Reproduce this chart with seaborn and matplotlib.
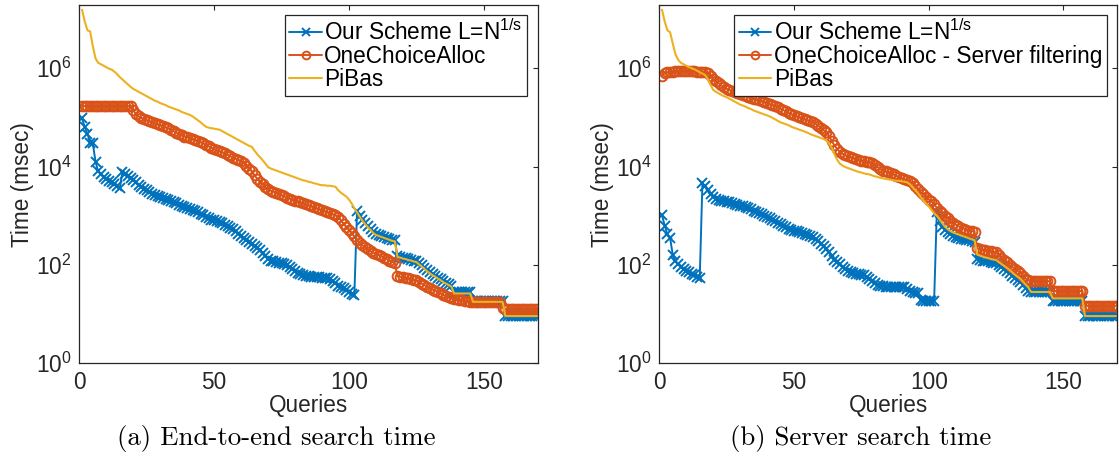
import numpy as np
import pandas as pd
import matplotlib
matplotlib.use("Agg")
import matplotlib.pyplot as plt
import seaborn as sns

# Query index (1..170)
queries = list(range(1, 171))

# log10 of search time in msec, one value per query
# ---- (a) end-to-end search time ----
ours_e2e = [
    4.98, 4.80, 4.67, 4.48, 4.47, 4.10, 3.90, 3.84, 3.78, 3.74,
    3.71, 3.68, 3.64, 3.61, 3.56, 3.89, 3.84, 3.80, 3.77, 3.73,
    3.68, 3.62, 3.58, 3.55, 3.52, 3.48, 3.45, 3.42, 3.40, 3.38,
    3.36, 3.34, 3.32, 3.30, 3.28, 3.25, 3.22, 3.19, 3.17, 3.15,
    3.13, 3.11, 3.09, 3.07, 3.04, 3.01, 2.98, 2.95, 2.92, 2.91,
    2.90, 2.88, 2.85, 2.82, 2.79, 2.76, 2.73, 2.68, 2.63, 2.58,
    2.54, 2.50, 2.46, 2.42, 2.38, 2.34, 2.30, 2.25, 2.18, 2.12,
    2.09, 2.07, 2.05, 2.04, 2.03, 2.02, 1.99, 1.95, 1.91, 1.87,
    1.84, 1.81, 1.79, 1.78, 1.77, 1.76, 1.76, 1.75, 1.75, 1.74,
    1.74, 1.73, 1.72, 1.68, 1.63, 1.58, 1.56, 1.53, 1.49, 1.44,
    1.40, 1.38, 3.10, 3.00, 2.92, 2.85, 2.79, 2.73, 2.67, 2.63,
    2.61, 2.59, 2.57, 2.55, 2.53, 2.51, 2.50, 2.18, 2.17, 2.15,
    2.14, 2.12, 2.11, 2.09, 2.08, 2.03, 1.99, 1.94, 1.89, 1.85,
    1.81, 1.78, 1.74, 1.71, 1.67, 1.64, 1.61, 1.58, 1.45, 1.45,
    1.45, 1.45, 1.45, 1.45, 1.45, 1.27, 1.27, 1.27, 1.27, 1.27,
    1.27, 1.27, 1.27, 1.27, 1.27, 1.27, 1.27, 0.97, 0.97, 0.97,
    0.97, 0.97, 0.97, 0.97, 0.97, 0.97, 0.97, 0.97, 0.97, 0.97,
]
onechoice_e2e = [
    5.23, 5.23, 5.23, 5.23, 5.23, 5.23, 5.23, 5.23, 5.23, 5.23,
    5.23, 5.23, 5.23, 5.23, 5.23, 5.23, 5.23, 5.23, 5.23, 5.15,
    5.06, 5.02, 4.99, 4.96, 4.94, 4.92, 4.90, 4.88, 4.86, 4.84,
    4.82, 4.80, 4.78, 4.75, 4.72, 4.69, 4.66, 4.64, 4.61, 4.60,
    4.58, 4.56, 4.54, 4.52, 4.50, 4.47, 4.44, 4.41, 4.38, 4.35,
    4.33, 4.31, 4.29, 4.27, 4.24, 4.21, 4.18, 4.16, 4.14, 4.11,
    4.07, 4.02, 3.96, 3.90, 3.82, 3.75, 3.69, 3.64, 3.59, 3.54,
    3.51, 3.49, 3.47, 3.45, 3.42, 3.40, 3.37, 3.35, 3.33, 3.31,
    3.29, 3.27, 3.25, 3.23, 3.21, 3.19, 3.17, 3.15, 3.13, 3.11,
    3.09, 3.07, 3.05, 3.03, 3.01, 2.97, 2.91, 2.84, 2.77, 2.72,
    2.65, 2.58, 2.51, 2.45, 2.40, 2.36, 2.32, 2.28, 2.25, 2.23,
    2.21, 2.18, 2.15, 2.12, 2.09, 2.06, 2.04, 1.77, 1.76, 1.75,
    1.74, 1.73, 1.72, 1.70, 1.69, 1.66, 1.62, 1.59, 1.56, 1.53,
    1.50, 1.48, 1.45, 1.42, 1.39, 1.36, 1.34, 1.32, 1.31, 1.30,
    1.29, 1.28, 1.27, 1.26, 1.25, 1.24, 1.24, 1.24, 1.24, 1.24,
    1.24, 1.24, 1.24, 1.24, 1.24, 1.24, 1.12, 1.10, 1.10, 1.10,
    1.10, 1.10, 1.10, 1.10, 1.10, 1.10, 1.10, 1.10, 1.10, 1.10,
]
pibas_e2e = [
    7.19, 6.95, 6.77, 6.75, 6.45, 6.20, 6.11, 6.08, 6.05, 6.02,
    5.99, 5.97, 5.93, 5.88, 5.82, 5.77, 5.72, 5.67, 5.62, 5.58,
    5.55, 5.52, 5.49, 5.46, 5.43, 5.40, 5.37, 5.34, 5.32, 5.29,
    5.27, 5.25, 5.22, 5.20, 5.18, 5.16, 5.14, 5.11, 5.09, 5.07,
    5.05, 5.02, 4.98, 4.94, 4.90, 4.85, 4.81, 4.79, 4.78, 4.77,
    4.76, 4.75, 4.72, 4.69, 4.66, 4.63, 4.60, 4.57, 4.54, 4.51,
    4.48, 4.45, 4.42, 4.40, 4.32, 4.25, 4.19, 4.13, 4.06, 3.99,
    3.96, 3.94, 3.92, 3.90, 3.88, 3.86, 3.84, 3.82, 3.80, 3.78,
    3.76, 3.74, 3.72, 3.71, 3.69, 3.68, 3.66, 3.65, 3.63, 3.62,
    3.62, 3.61, 3.61, 3.60, 3.59, 3.52, 3.47, 3.43, 3.39, 3.33,
    3.25, 3.15, 3.07, 2.98, 2.90, 2.83, 2.77, 2.71, 2.65, 2.61,
    2.59, 2.57, 2.55, 2.53, 2.51, 2.49, 2.48, 2.16, 2.15, 2.13,
    2.12, 2.10, 2.09, 2.07, 2.06, 2.01, 1.97, 1.92, 1.87, 1.83,
    1.79, 1.76, 1.72, 1.69, 1.65, 1.62, 1.59, 1.56, 1.42, 1.42,
    1.42, 1.42, 1.42, 1.42, 1.42, 1.25, 1.25, 1.25, 1.25, 1.25,
    1.25, 1.25, 1.25, 1.25, 1.25, 1.25, 1.25, 0.96, 0.96, 0.96,
    0.96, 0.96, 0.96, 0.96, 0.96, 0.96, 0.96, 0.96, 0.96, 0.96,
]

# ---- (b) server search time ----
ours_srv = [
    3.01, 2.80, 2.62, 2.55, 2.20, 2.08, 2.01, 1.96, 1.92, 1.88,
    1.85, 1.82, 1.79, 1.76, 1.73, 3.66, 3.60, 3.52, 3.44, 3.39,
    3.35, 3.32, 3.30, 3.29, 3.28, 3.27, 3.25, 3.23, 3.21, 3.20,
    3.19, 3.18, 3.16, 3.13, 3.10, 3.07, 3.05, 3.03, 3.00, 2.98,
    2.95, 2.92, 2.89, 2.86, 2.83, 2.80, 2.77, 2.74, 2.72, 2.70,
    2.68, 2.66, 2.64, 2.62, 2.60, 2.58, 2.57, 2.53, 2.48, 2.43,
    2.38, 2.32, 2.26, 2.18, 2.10, 2.05, 2.01, 1.96, 1.91, 1.87,
    1.85, 1.83, 1.82, 1.81, 1.80, 1.79, 1.76, 1.71, 1.67, 1.63,
    1.60, 1.58, 1.57, 1.56, 1.56, 1.56, 1.56, 1.56, 1.56, 1.56,
    1.56, 1.52, 1.46, 1.44, 1.43, 1.42, 1.28, 1.27, 1.27, 1.27,
    1.27, 1.27, 3.08, 2.90, 2.78, 2.72, 2.67, 2.63, 2.59, 2.57,
    2.55, 2.53, 2.52, 2.51, 2.50, 2.49, 2.47, 2.13, 2.11, 2.09,
    2.08, 2.07, 2.05, 2.04, 2.03, 1.99, 1.95, 1.91, 1.87, 1.83,
    1.78, 1.73, 1.69, 1.65, 1.60, 1.53, 1.46, 1.45, 1.45, 1.45,
    1.45, 1.45, 1.45, 1.45, 1.45, 1.27, 1.27, 1.27, 1.27, 1.27,
    1.27, 1.27, 1.27, 1.27, 1.27, 1.27, 1.27, 0.96, 0.96, 0.96,
    0.96, 0.96, 0.96, 0.96, 0.96, 0.96, 0.96, 0.96, 0.96, 0.96,
]
onechoice_srv = [
    5.85, 5.90, 5.92, 5.93, 5.93, 5.94, 5.94, 5.94, 5.94, 5.94,
    5.94, 5.94, 5.94, 5.93, 5.93, 5.93, 5.92, 5.90, 5.85, 5.79,
    5.74, 5.70, 5.65, 5.61, 5.58, 5.56, 5.53, 5.51, 5.49, 5.48,
    5.46, 5.44, 5.42, 5.40, 5.38, 5.37, 5.35, 5.33, 5.31, 5.29,
    5.27, 5.25, 5.23, 5.21, 5.18, 5.15, 5.12, 5.09, 5.06, 5.04,
    5.02, 5.00, 4.98, 4.96, 4.94, 4.92, 4.91, 4.87, 4.83, 4.78,
    4.74, 4.70, 4.62, 4.52, 4.43, 4.36, 4.30, 4.26, 4.23, 4.21,
    4.19, 4.17, 4.15, 4.13, 4.12, 4.11, 4.10, 4.10, 4.07, 4.03,
    3.99, 3.95, 3.92, 3.90, 3.89, 3.87, 3.84, 3.81, 3.78, 3.76,
    3.74, 3.72, 3.70, 3.66, 3.60, 3.54, 3.48, 3.44, 3.39, 3.33,
    3.29, 3.24, 3.16, 3.10, 3.05, 3.00, 2.95, 2.90, 2.86, 2.82,
    2.79, 2.76, 2.74, 2.72, 2.70, 2.69, 2.67, 2.34, 2.32, 2.31,
    2.30, 2.29, 2.28, 2.27, 2.26, 2.21, 2.15, 2.10, 2.05, 2.00,
    1.96, 1.92, 1.88, 1.84, 1.78, 1.72, 1.69, 1.67, 1.67, 1.67,
    1.67, 1.67, 1.67, 1.67, 1.67, 1.47, 1.47, 1.47, 1.47, 1.47,
    1.47, 1.47, 1.47, 1.47, 1.47, 1.47, 1.47, 1.17, 1.17, 1.17,
    1.17, 1.17, 1.17, 1.17, 1.17, 1.17, 1.17, 1.17, 1.17, 1.17,
]
pibas_srv = [
    7.19, 6.95, 6.77, 6.73, 6.50, 6.28, 6.17, 6.11, 6.08, 6.05,
    6.02, 6.00, 5.98, 5.95, 5.92, 5.89, 5.86, 5.78, 5.66, 5.56,
    5.52, 5.49, 5.46, 5.43, 5.41, 5.38, 5.35, 5.32, 5.29, 5.26,
    5.24, 5.22, 5.19, 5.17, 5.14, 5.12, 5.10, 5.08, 5.06, 5.04,
    5.02, 4.99, 4.96, 4.93, 4.90, 4.88, 4.86, 4.84, 4.81, 4.79,
    4.77, 4.75, 4.73, 4.71, 4.69, 4.66, 4.64, 4.62, 4.60, 4.58,
    4.56, 4.53, 4.47, 4.38, 4.25, 4.14, 4.06, 4.02, 3.99, 3.97,
    3.95, 3.93, 3.91, 3.89, 3.88, 3.86, 3.85, 3.84, 3.82, 3.80,
    3.79, 3.77, 3.76, 3.75, 3.74, 3.73, 3.72, 3.71, 3.71, 3.70,
    3.69, 3.68, 3.64, 3.58, 3.52, 3.46, 3.38, 3.31, 3.25, 3.19,
    3.12, 3.05, 3.00, 2.93, 2.85, 2.78, 2.73, 2.69, 2.66, 2.64,
    2.62, 2.60, 2.58, 2.56, 2.54, 2.52, 2.50, 2.21, 2.19, 2.17,
    2.15, 2.14, 2.12, 2.11, 2.10, 2.06, 2.02, 1.98, 1.94, 1.90,
    1.85, 1.80, 1.76, 1.72, 1.66, 1.60, 1.54, 1.45, 1.45, 1.45,
    1.45, 1.45, 1.45, 1.45, 1.45, 1.32, 1.32, 1.32, 1.32, 1.32,
    1.32, 1.32, 1.32, 1.32, 1.32, 1.32, 1.32, 0.96, 0.96, 0.96,
    0.96, 0.96, 0.96, 0.96, 0.96, 0.96, 0.96, 0.96, 0.96, 0.96,
]

labels_a = ["Our Scheme L=N$^{\\mathdefault{1/s}}$", "OneChoiceAlloc", "PiBas"]
labels_b = ["Our Scheme L=N$^{\\mathdefault{1/s}}$",
            "OneChoiceAlloc - Server filtering", "PiBas"]
captions = ["(a) End-to-end search time", "(b) Server search time"]
x_ticks = [0, 50, 100, 150]
y_ticks = [1e0, 1e2, 1e4, 1e6]

BLUE, ORANGE, YELLOW = "#0072BD", "#D95319", "#EDB120"
INK = "#262626"

sns.set_style("white")
plt.rcParams["font.family"] = ["Liberation Sans", "DejaVu Sans"]
plt.rcParams["mathtext.fontset"] = "custom"
plt.rcParams["mathtext.rm"] = "Liberation Sans"
plt.rcParams["mathtext.it"] = "Liberation Sans:italic"
plt.rcParams["mathtext.bf"] = "Liberation Sans:bold"

FS = 16.3

fig = plt.figure(figsize=(11.19, 4.66), dpi=100)
ax_a = fig.add_axes([0.0709, 0.2204, 0.4096, 0.7682])
ax_b = fig.add_axes([0.5892, 0.2204, 0.4093, 0.7682])


def draw(ax, ours, onechoice, pibas, labels):
    df = pd.DataFrame({
        "Queries": queries,
        "ours": np.power(10.0, ours),
        "onechoice": np.power(10.0, onechoice),
        "pibas": np.power(10.0, pibas),
    })
    sns.lineplot(data=df, x="Queries", y="ours", ax=ax, color=BLUE,
                 linewidth=1.4, marker="x", markersize=7,
                 markeredgecolor=BLUE, markerfacecolor=BLUE,
                 markeredgewidth=1.4, estimator=None, label=labels[0])
    sns.lineplot(data=df, x="Queries", y="onechoice", ax=ax, color=ORANGE,
                 linewidth=1.4, marker="o", markersize=7,
                 markerfacecolor="none", markeredgecolor=ORANGE,
                 markeredgewidth=1.4, estimator=None, label=labels[1])
    sns.lineplot(data=df, x="Queries", y="pibas", ax=ax, color=YELLOW,
                 linewidth=1.5, estimator=None, label=labels[2])

    ax.set_yscale("log")
    ax.set_xlim(0, 170)
    ax.set_ylim(1, 1.9e7)
    ax.set_xticks(x_ticks)
    ax.set_yticks(y_ticks)
    ax.yaxis.set_minor_locator(matplotlib.ticker.NullLocator())
    ax.tick_params(axis="both", which="major", direction="in", length=3.6,
                   width=0.8, color=INK, labelcolor=INK, labelsize=FS,
                   top=True, right=True, pad=5.5)
    for sp in ax.spines.values():
        sp.set_visible(True)
        sp.set_color(INK)
        sp.set_linewidth(0.9)
    ax.set_xlabel("Queries", fontsize=FS, color=INK)
    ax.set_ylabel("Time (msec)", fontsize=FS, color=INK)
    ax.xaxis.set_label_coords(0.5, -0.085)
    ax.yaxis.set_label_coords(-0.098, 0.5)

    leg = ax.legend(loc="upper right", bbox_to_anchor=(0.9767, 0.9729),
                    borderaxespad=0.0, fontsize=FS, frameon=True,
                    fancybox=False, framealpha=1.0, edgecolor=INK,
                    handlelength=1.45, handletextpad=0.1, borderpad=0.2,
                    labelspacing=0.0, numpoints=1, markerscale=0.8)
    leg.get_frame().set_linewidth(0.9)
    for t in leg.get_texts():
        t.set_color("black")


draw(ax_a, ours_e2e, onechoice_e2e, pibas_e2e, labels_a)
draw(ax_b, ours_srv, onechoice_srv, pibas_srv, labels_b)

fig.text(0.247, 0.06, captions[0], ha="center", va="center",
         fontfamily="cmr10", fontsize=19.4, color="black")
fig.text(0.7695, 0.06, captions[1], ha="center", va="center",
         fontfamily="cmr10", fontsize=19.3, color="black")

fig.savefig("out.png", dpi=100)
